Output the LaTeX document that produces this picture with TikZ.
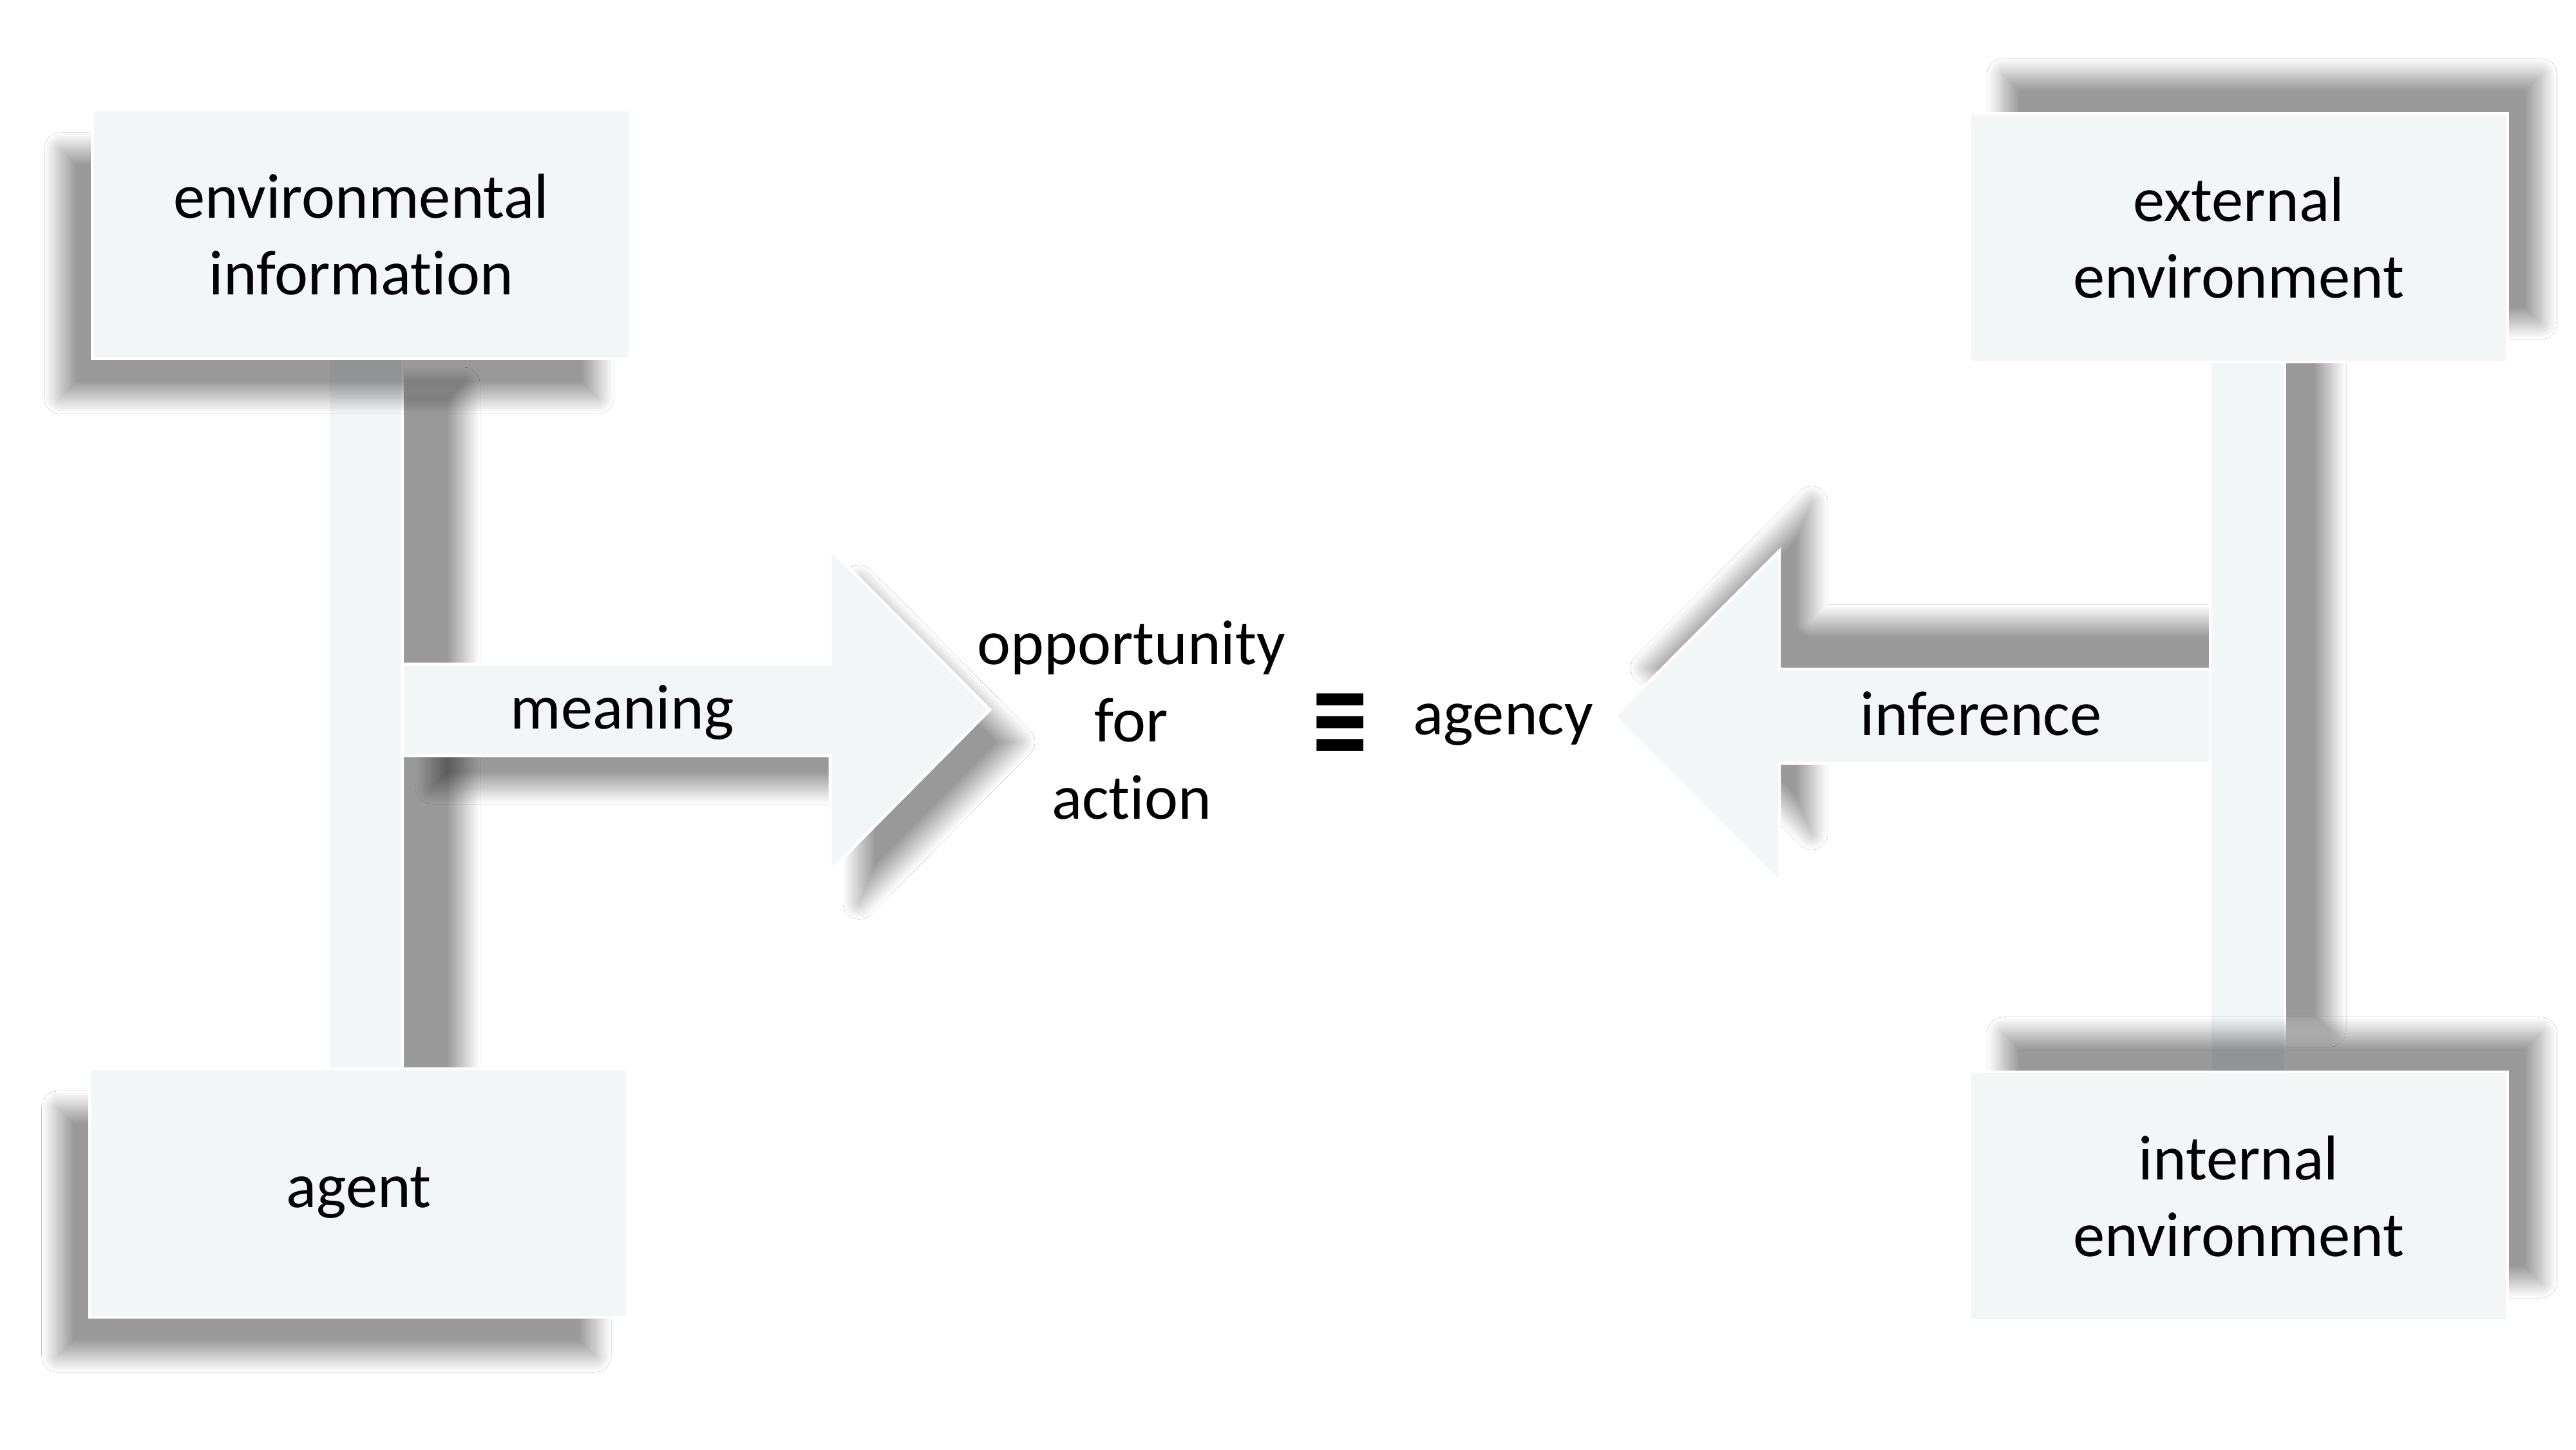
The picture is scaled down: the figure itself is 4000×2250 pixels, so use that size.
\documentclass[tikz,border=0pt]{standalone}
\usepackage{fontspec}
\setmainfont[Ligatures=NoCommon]{Carlito}
\newfontfamily\symfont{DejaVu Sans}
\usepackage{graphicx}
\usetikzlibrary{shadows.blur}
\definecolor{panelfill}{RGB}{243,246,247}
\begin{document}
\begin{tikzpicture}[x=0.01cm,y=-0.01cm,
  panel/.style={fill=panelfill, draw=white, line width=1.3pt, line join=miter},
  box/.style={panel, rectangle, minimum width=8.34cm, minimum height=3.86cm,
    align=center, inner sep=0pt, font=\fontsize{28}{34}\selectfont},
  lshadow/.style={blur shadow={shadow xshift=-0.5cm, shadow yshift=-0.6cm, shadow blur radius=0.25cm, shadow blur steps=40}},
  rshadow/.style={blur shadow={shadow xshift=0.52cm, shadow yshift=0.6cm, shadow blur radius=0.25cm, shadow blur steps=40}},
  lbl/.style={inner sep=0pt, font=\fontsize{28}{34}\selectfont, text=black}
]
\useasboundingbox[fill=white] (0,0) rectangle (4000,2250);

% ---------- left T: bar + arrow (meaning) ----------
\path[panel, blur shadow={shadow xshift=0.95cm, shadow yshift=-0.5cm, shadow blur radius=0.25cm, shadow blur steps=40}]
  (510,545) rectangle (625,1670);
\path[panel, blur shadow={shadow xshift=0.45cm, shadow yshift=-0.5cm, shadow blur radius=0.25cm, shadow blur steps=40}]
  (625,1031) -- (1289,1031) -- (1289,852) -- (1537,1102) -- (1289,1352)
  -- (1289,1173) -- (625,1173) -- cycle;

% ---------- right T: arrow (inference) + bar ----------
\path[panel, blur shadow={shadow xshift=0.5cm, shadow yshift=0.75cm, shadow blur radius=0.25cm, shadow blur steps=40}]
  (3432,1039) -- (2763,1039) -- (2763,855) -- (2507,1112) -- (2763,1369)
  -- (2763,1185) -- (3432,1185) -- cycle;
\path[panel, blur shadow={shadow xshift=0.7cm, shadow yshift=0.75cm, shadow blur radius=0.25cm, shadow blur steps=40}]
  (3432,550) rectangle (3548,1675);

% ---------- boxes ----------
\node[box, lshadow] (envinfo) at (561,364) {environmental\\information};
\node[box, lshadow] (agent) at (557,1852) {agent};
\node[box, rshadow] (extenv) at (3476,369) {external\\environment};
\node[box, rshadow] (intenv) at (3476,1857) {internal\\environment};

% ---------- labels ----------
\node[lbl, anchor=base] (meaning) at (966,1131) {meaning};
\node[lbl, anchor=base] (inference) at (3076,1141) {inference};
\node[lbl, align=center] (opp) at (1757,1118) {opportunity\\for\\action};
\node[anchor=north, inner sep=0pt] (equiv) at (2081,1076)
  {\symfont\bfseries\fontsize{33}{33}\selectfont\scalebox{1}[1.4]{≡}};
\node[lbl, anchor=base] (agency) at (2334,1140) {agency};
\end{tikzpicture}
\end{document}
